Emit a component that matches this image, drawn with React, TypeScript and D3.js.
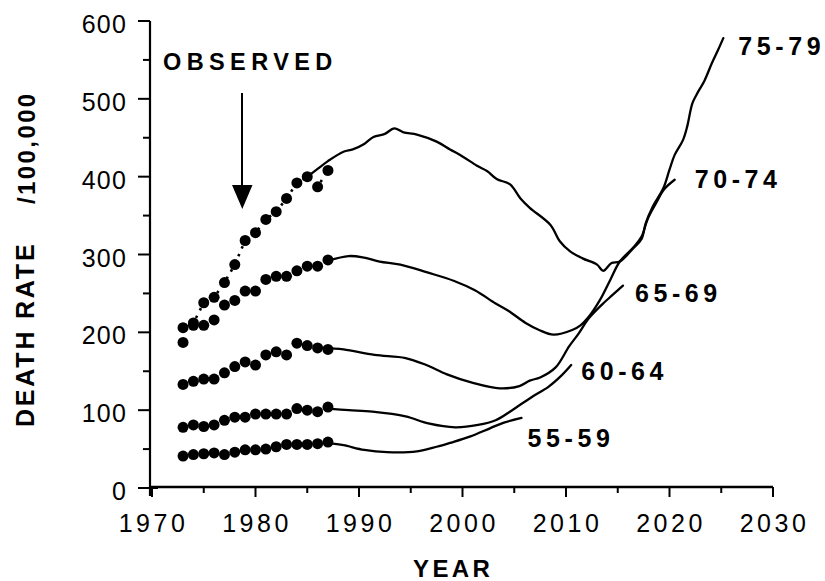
import React from "react";
import * as d3 from "d3";

// ---- data ----
const obsYears = [1973, 1974, 1975, 1976, 1977, 1978, 1979, 1980, 1981, 1982, 1983, 1984, 1985, 1986, 1987];
const obs5559 = [41, 43, 44, 45, 43, 46, 49, 49, 50, 53, 56, 56, 56, 57, 59];
const obs6064 = [78, 81, 79, 81, 87, 91, 91, 95, 95, 95, 95, 102, 100, 98, 104];
const obs6569 = [133, 137, 140, 140, 148, 156, 162, 158, 171, 175, 171, 186, 183, 180, 178];
const obs7074 = [187, 209, 209, 216, 235, 241, 253, 253, 268, 272, 272, 279, 285, 285, 293];
const obs7579 = [206, 212, 238, 245, 264, 287, 318, 328, 345, 355, 372, 392, 400, 387, 408];

const proj5559: [number, number][] = [
  [1987, 58], [1988.5, 55], [1990.5, 49], [1992.7, 46], [1995.6, 47], [1997.5, 53],
  [1998.8, 58], [2000.7, 66], [2002.7, 77], [2004, 84], [2005.7, 90],
];
const proj6064: [number, number][] = [
  [1987, 102], [1989, 100], [1991.3, 98], [1994.5, 92], [1996.7, 83], [1999.3, 78],
  [2001.5, 81], [2003.2, 87], [2004.8, 100], [2006.7, 117], [2008.3, 130], [2009.6, 145], [2010.5, 158],
];
const proj6569: [number, number][] = [
  [1986.5, 180], [1988.5, 178], [1991.5, 171], [1994.5, 167], [1996.5, 158], [1998.5, 146],
  [2001, 135], [2003.6, 128], [2005.5, 131], [2006.5, 138], [2007.5, 142], [2009, 155],
  [2010.3, 182], [2011.2, 198], [2012.2, 218], [2013.5, 236], [2014.5, 248], [2015.5, 260],
];
const proj7074: [number, number][] = [
  [1987, 292], [1989, 298], [1990.5, 296], [1992, 291], [1994, 287], [1996.6, 277],
  [1999.2, 266], [2001.2, 254], [2003.2, 237], [2004.5, 227], [2006.1, 212], [2007.4, 203],
  [2008.8, 197], [2010.6, 203], [2011.4, 209], [2012.2, 220], [2013.3, 242], [2014.3, 268],
  [2015.2, 291], [2016.5, 309], [2017.3, 323], [2017.9, 346], [2018.7, 366], [2019.5, 384], [2020.5, 396],
];
const proj7579: [number, number][] = [
  [1985, 400], [1986, 410], [1987, 420], [1988.5, 432], [1989.4, 435], [1990.5, 442],
  [1991.4, 451], [1992.5, 455], [1993.4, 462], [1994.3, 457], [1995.6, 454], [1997.5, 445],
  [1998.8, 435], [2000, 426], [2001.4, 414], [2002.4, 407], [2003.3, 397], [2004.6, 390],
  [2005.6, 372], [2006.5, 360], [2008.5, 338], [2009.4, 317], [2010.4, 304], [2011.6, 295],
  [2013, 287], [2013.6, 279], [2014.4, 289], [2015.2, 291], [2016.5, 308], [2017.3, 320],
  [2017.7, 340], [2018.4, 362], [2019.4, 385], [2020, 409], [2020.5, 428], [2021.3, 447],
  [2021.7, 464], [2022.2, 494], [2022.6, 505], [2023.4, 524], [2024.1, 546], [2024.7, 563], [2025.2, 578],
];

const seriesNames = ["55-59", "60-64", "65-69", "70-74", "75-79"];
const observedSets = [obs5559, obs6064, obs6569, obs7074, obs7579];
const projectedSets = [proj5559, proj6064, proj6569, proj7074, proj7579];

const yMajor = [0, 100, 200, 300, 400, 500, 600];
const yMinor = [50, 150, 250, 350, 450, 550];
const xMajor = [1970, 1980, 1990, 2000, 2010, 2020, 2030];
const xMinor = [1975, 1985, 1995, 2005, 2015, 2025];

// ---- layout (label offsets from each series' last projected point, px) ----
const labelOffsets: [number, number][] = [
  [6, 29],
  [10, 15],
  [12, 16],
  [20, 8],
  [15, 17],
];

const W = 825;
const H = 581;
const FONT = "'Liberation Sans', Arial, Helvetica, sans-serif";

export default function App() {
  const x = d3.scaleLinear().domain([1970, 2030]).range([152, 773]);
  const y = d3.scaleLinear().domain([0, 600]).range([488, 21]);
  const axisX = 150;
  const axisY = y(0) - 1;

  const line = d3
    .line<[number, number]>()
    .x((d) => x(d[0]))
    .y((d) => y(d[1]))
    .curve(d3.curveCatmullRom.alpha(0.5));

  const obsLine = d3
    .line<number>()
    .x((_, i) => x(obsYears[i]))
    .y((d) => y(d))
    .curve(d3.curveLinear);

  return (
    <div style={{ position: "absolute", left: 0, top: 0 }}>
      <svg width={W} height={H} viewBox={`0 0 ${W} ${H}`} style={{ display: "block", background: "#fff" }}>
        <rect x={0} y={0} width={W} height={H} fill="#fff" />
        {/* Y axis */}
        <line x1={axisX} x2={axisX} y1={y(600)} y2={axisY + 9} stroke="#000" strokeWidth={2.2} />
        {yMajor.map((v) => (
          <g key={"ym" + v}>
            <line x1={axisX - 12} x2={v === 0 ? axisX + 8 : axisX} y1={y(v)} y2={y(v)} stroke="#000" strokeWidth={2} />
            <text
              x={127}
              y={y(v) + 12}
              textAnchor="end"
              fontFamily={FONT}
              fontSize={25}
              letterSpacing={1.2}
              fill="#000"
            >
              {v}
            </text>
          </g>
        ))}
        {yMinor.map((v) => (
          <line key={"yn" + v} x1={axisX - 7} x2={axisX} y1={y(v)} y2={y(v)} stroke="#000" strokeWidth={2} />
        ))}
        {/* X axis */}
        <line x1={axisX} x2={x(2030)} y1={axisY} y2={axisY} stroke="#000" strokeWidth={2.4} />
        {xMajor.map((v) => (
          <g key={"xm" + v}>
            <line x1={x(v)} x2={x(v)} y1={axisY} y2={axisY + 10} stroke="#000" strokeWidth={2} />
            <text
              x={x(v) + 1.5}
              y={axisY + 45}
              textAnchor="middle"
              fontFamily={FONT}
              fontSize={25}
              letterSpacing={3.5}
              fill="#000"
            >
              {v}
            </text>
          </g>
        ))}
        {xMinor.map((v) => (
          <line key={"xn" + v} x1={x(v)} x2={x(v)} y1={axisY} y2={axisY + 6} stroke="#000" strokeWidth={2} />
        ))}

        {/* Axis titles */}
        <text
          transform={`translate(34, 427) rotate(-90)`}
          fontFamily={FONT}
          fontWeight="bold"
          fontSize={25}
          letterSpacing={2.8}
          fill="#000"
        >
          DEATH RATE
        </text>
        <text
          transform={`translate(35, 204) rotate(-90)`}
          fontFamily={FONT}
          fontWeight="bold"
          fontSize={24}
          letterSpacing={2.4}
          fill="#000"
        >
          /100,000
        </text>
        <text x={413} y={577} fontFamily={FONT} fontWeight="bold" fontSize={24} letterSpacing={3.4} fill="#000">
          YEAR
        </text>

        {/* OBSERVED annotation */}
        <text x={163} y={70} fontFamily={FONT} fontWeight="bold" fontSize={23.5} letterSpacing={5.4} fill="#000">
          OBSERVED
        </text>
        <line x1={242} x2={242} y1={93} y2={190} stroke="#000" strokeWidth={2} />
        <path d="M232,185 L252.5,185 L242.3,209 Z" fill="#000" />

        {/* dotted connector for the oldest observed series */}
        <path d={obsLine(obs7579) || ""} fill="none" stroke="#000" strokeWidth={2.6} strokeDasharray="2.5,6" />

        {/* projections */}
        {projectedSets.map((p, i) => (
          <path key={"p" + i} d={line(p) || ""} fill="none" stroke="#000" strokeWidth={2.3} strokeLinejoin="round" strokeLinecap="round" />
        ))}

        {/* observed dots */}
        {observedSets.map((s, i) => (
          <g key={"o" + i}>
            {s.map((v, j) => (
              <circle key={j} cx={x(obsYears[j])} cy={y(v)} r={5.5} fill="#000" />
            ))}
          </g>
        ))}

        {/* series labels */}
        {projectedSets.map((p, i) => {
          const last = p[p.length - 1];
          return (
            <text
              key={"l" + i}
              x={x(last[0]) + labelOffsets[i][0]}
              y={y(last[1]) + labelOffsets[i][1]}
              fontFamily={FONT}
              fontWeight="bold"
              fontSize={25}
              letterSpacing={4.6}
              fill="#000"
            >
              {seriesNames[i]}
            </text>
          );
        })}
      </svg>
    </div>
  );
}
